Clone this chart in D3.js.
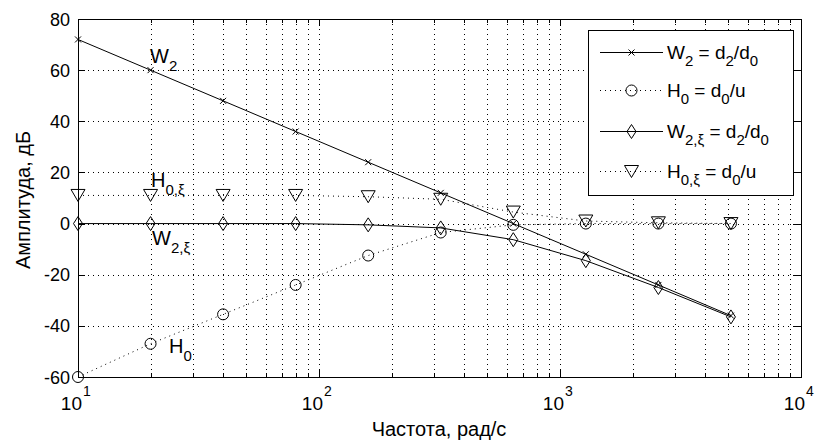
<!DOCTYPE html>
<html>
<head>
<meta charset="utf-8">
<script src="https://cdn.jsdelivr.net/npm/d3@7"></script>
<style>
body { margin: 0; background: #fff; }
text { font-family: "Liberation Sans", Arial, sans-serif; fill: #000; }
</style>
</head>
<body>
<div id="chart"></div>
<script>
// частоты, рад/с
freq = [10, 20, 40, 80, 160, 320, 640, 1280, 2560, 5120];
W2 = [72, 60, 48, 36, 24, 12, 0, -12, -24, -36];
H0 = [-60, -47, -35.5, -24, -12.5, -3.5, -0.5, 0, 0, 0];
W2xi = [0, 0, 0, 0, -0.5, -1.7, -6.3, -14.5, -25, -36.5];
H0xi = [11, 11, 11, 11, 10.5, 9.5, 4.5, 1, 0.3, 0];
yTicks = [-60, -40, -20, 0, 20, 40, 60, 80];
xDecades = [1, 2, 3, 4];

W = 815; H = 442;
x0 = 78; x1 = 801; y0 = 19; y1 = 377;

svg = d3.select('#chart')
  .append('svg')
  .attr('width', W)
  .attr('height', H);

x = d3.scaleLog().domain([10, 10000]).range([x0, x1]);
y = d3.scaleLinear().domain([-60, 80]).range([y1, y0]);

// сетка
g = svg.append('g').attr('stroke', '#000').attr('stroke-width', 1)
  .attr('stroke-dasharray', '1,4').attr('shape-rendering', 'crispEdges');
x.ticks().forEach(function (t) {
  if (t <= 10 || t >= 10000) return;
  g.append('line').attr('x1', Math.round(x(t)) + 0.5).attr('x2', Math.round(x(t)) + 0.5)
    .attr('y1', y0).attr('y2', y1);
});
yTicks.forEach(function (t) {
  if (t == -60 || t == 80) return;
  g.append('line').attr('x1', x0).attr('x2', x1)
    .attr('y1', Math.round(y(t)) + 0.5).attr('y2', Math.round(y(t)) + 0.5);
});

// оси
ax = svg.append('g').attr('stroke', '#000').attr('stroke-width', 1).attr('shape-rendering', 'crispEdges');
ax.append('rect').attr('x', x0 + 0.5).attr('y', y0 + 0.5)
  .attr('width', x1 - x0).attr('height', y1 - y0).attr('fill', 'none');
x.ticks().forEach(function (t) {
  var major = Math.abs(Math.log10(t) - Math.round(Math.log10(t))) < 1e-9;
  var len = major ? 7 : 4;
  var xx = Math.round(x(t)) + 0.5;
  ax.append('line').attr('x1', xx).attr('x2', xx).attr('y1', y1).attr('y2', y1 - len);
  ax.append('line').attr('x1', xx).attr('x2', xx).attr('y1', y0).attr('y2', y0 + len);
});
yTicks.forEach(function (t) {
  var yy = Math.round(y(t)) + 0.5;
  ax.append('line').attr('x1', x0).attr('x2', x0 + 7).attr('y1', yy).attr('y2', yy);
  ax.append('line').attr('x1', x1).attr('x2', x1 - 7).attr('y1', yy).attr('y2', yy);
});

svg.selectAll('.ylab').data(yTicks).enter().append('text')
  .attr('x', x0 - 8).attr('y', function (d) { return y(d) + 6.5; })
  .attr('text-anchor', 'end').attr('font-size', 18)
  .text(function (d) { return d; });

xDecades.forEach(function (p) {
  var xx = x(Math.pow(10, p));
  svg.append('text').attr('x', xx + 4).attr('y', 410).attr('text-anchor', 'end')
    .attr('font-size', 19).text('10');
  svg.append('text').attr('x', xx + 5).attr('y', 396).attr('font-size', 14).text(p);
});

svg.append('text').attr('x', 439).attr('y', 436).attr('text-anchor', 'middle')
  .attr('font-size', 20).text('Частота, рад/с');
svg.append('text').attr('transform', 'translate(30,200) rotate(-90)')
  .attr('text-anchor', 'middle').attr('font-size', 20).text('Амплитуда, дБ');

// линии
series = [
  { v: W2, dash: null, m: 'x' },
  { v: H0, dash: '1,4', m: 'o' },
  { v: W2xi, dash: null, m: 'd' },
  { v: H0xi, dash: '1,4', m: 'v' }
];
line = d3.line().x(function (d) { return x(d[0]); }).y(function (d) { return y(d[1]); });

function marker(sel, type, cx, cy) {
  var p = sel.append('path').attr('fill', 'none').attr('stroke', '#000').attr('stroke-width', 1);
  if (type == 'x') p.attr('d', 'M' + (cx - 3) + ',' + (cy - 3) + 'L' + (cx + 3) + ',' + (cy + 3) +
    'M' + (cx - 3) + ',' + (cy + 3) + 'L' + (cx + 3) + ',' + (cy - 3));
  if (type == 'o') { p.remove(); sel.append('circle').attr('cx', cx).attr('cy', cy).attr('r', 5.5)
    .attr('fill', 'none').attr('stroke', '#000'); }
  if (type == 'd') p.attr('d', 'M' + cx + ',' + (cy - 7) + 'L' + (cx + 4.5) + ',' + cy + 'L' + cx + ',' + (cy + 7) +
    'L' + (cx - 4.5) + ',' + cy + 'Z');
  if (type == 'v') p.attr('d', 'M' + (cx - 7) + ',' + (cy - 6) + 'L' + (cx + 7) + ',' + (cy - 6) + 'L' + cx + ',' + (cy + 6) + 'Z');
}

series.forEach(function (s) {
  var pts = freq.map(function (f, i) { return [f, s.v[i]]; });
  svg.append('path').datum(pts).attr('d', line).attr('fill', 'none')
    .attr('stroke', '#000').attr('stroke-width', 1)
    .attr('stroke-dasharray', s.dash);
  var mg = svg.append('g');
  pts.forEach(function (d) { marker(mg, s.m, x(d[0]), y(d[1])); });
});

// подписи кривых
function sublabel(xx, yy, main, sub) {
  var t = svg.append('text').attr('x', xx).attr('y', yy).attr('font-size', 20);
  t.append('tspan').text(main);
  t.append('tspan').attr('dy', 8).attr('font-size', 15).text(sub);
  return t;
}
sublabel(150, 63, 'W', '2');
sublabel(151, 187, 'H', '0,ξ');
sublabel(152, 245, 'W', '2,ξ');
sublabel(169, 353, 'H', '0');

// легенда
lg = svg.append('g');
lg.append('rect').attr('x', 588.5).attr('y', 30.5).attr('width', 205).attr('height', 165)
  .attr('fill', '#fff').attr('stroke', '#000').attr('shape-rendering', 'crispEdges');
legendRows = [
  { m: 'x', dash: null, yy: 52, a: ['W', '2', ' = d', '2', '/d', '0'] },
  { m: 'o', dash: '1,4', yy: 90, a: ['H', '0', ' = d', '0', '/u', ''] },
  { m: 'd', dash: null, yy: 131, a: ['W', '2,ξ', ' = d', '2', '/d', '0'] },
  { m: 'v', dash: '1,4', yy: 171, a: ['H', '0,ξ', ' = d', '0', '/u', ''] }
];
legendRows.forEach(function (r) {
  var yy = r.yy;
  lg.append('line').attr('x1', 600).attr('x2', 663).attr('y1', yy + 0.5).attr('y2', yy + 0.5)
    .attr('stroke', '#000').attr('stroke-dasharray', r.dash);
  marker(lg, r.m, 631.5, yy + 0.5);
  var t = lg.append('text').attr('x', 667).attr('y', yy + 6.5).attr('font-size', 19);
  r.a.forEach(function (s, k) {
    if (!s) return;
    var ts = t.append('tspan').text(s);
    if (k % 2 == 1) ts.attr('dy', 7).attr('font-size', 15);
    else if (k > 0) ts.attr('dy', -7);
  });
});
</script>
</body>
</html>
